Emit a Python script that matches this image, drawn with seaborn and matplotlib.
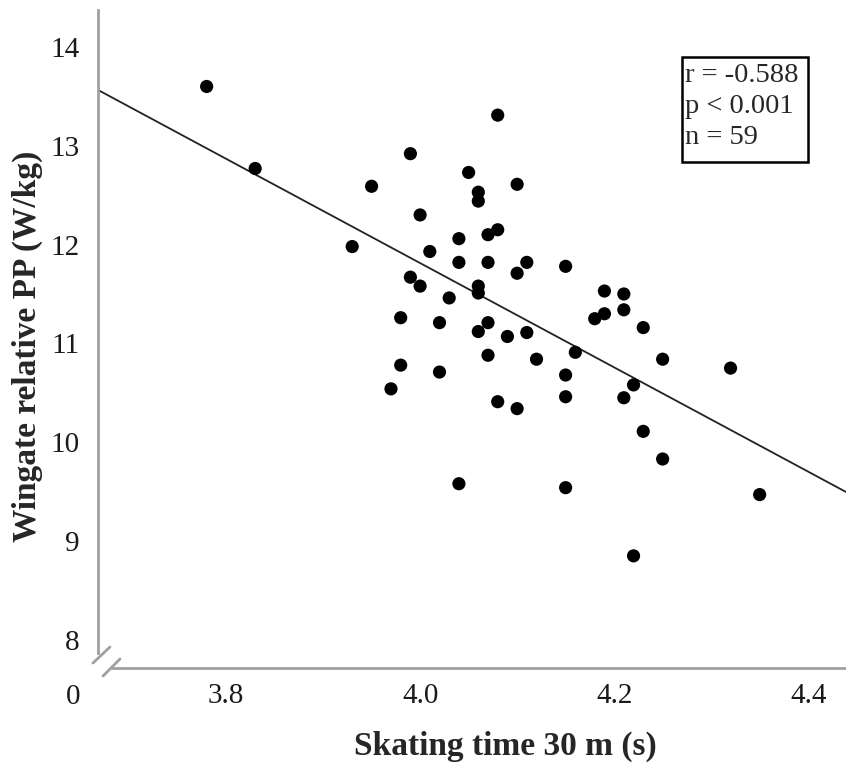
import numpy as np
import pandas as pd
import seaborn as sns
import matplotlib.pyplot as plt
from matplotlib.patches import Rectangle

# skating time 30 m (s) and Wingate relative peak power (W/kg)
skate_time = [3.78, 3.83, 4.08, 3.99, 4.05, 3.95, 4.10, 4.06, 4.06, 4.00,
              4.08, 4.07, 4.04, 3.93, 4.01, 4.04, 4.07, 4.11, 4.15, 4.10,
              3.99, 4.00, 4.06, 4.06, 4.03, 4.19, 4.21, 3.98, 4.02, 4.18,
              4.19, 4.21, 4.06, 4.07, 4.09, 4.11, 4.23, 4.16, 4.07, 4.12,
              4.25, 4.32, 3.98, 4.02, 4.15, 4.22, 3.97, 4.15, 4.21, 4.08,
              4.10, 4.23, 4.25, 4.04, 4.15, 4.35, 4.22]
wingate_pp = [13.60, 12.77, 13.31, 12.92, 12.73, 12.59, 12.61, 12.53, 12.44, 12.30,
              12.15, 12.10, 12.06, 11.98, 11.93, 11.82, 11.82, 11.82, 11.78, 11.71,
              11.67, 11.58, 11.58, 11.51, 11.46, 11.53, 11.50, 11.26, 11.21, 11.25,
              11.30, 11.34, 11.12, 11.21, 11.07, 11.11, 11.16, 10.91, 10.88, 10.84,
              10.84, 10.75, 10.78, 10.71, 10.68, 10.58, 10.54, 10.46, 10.45, 10.41,
              10.34, 10.11, 9.83, 9.58, 9.54, 9.47, 8.85]

# fitted line as printed in the figure: y = fit_at_4 + fit_slope * (x - 4)
fit_at_4 = 11.813
fit_slope = -5.277

xticks = [3.8, 4.0, 4.2, 4.4]
yticks = [8, 9, 10, 11, 12, 13, 14]
stats_lines = ['r = -0.588', 'p < 0.001', 'n = 59']

xlim = (3.668, 4.439)
ylim = (7.715, 14.374)

sns.set_style('white')
plt.rcParams['font.family'] = ['Liberation Serif', 'DejaVu Serif']

fig = plt.figure(figsize=(8.46, 7.71), dpi=100)
ax = fig.add_axes([98 / 846, 103 / 771, 748 / 846, 658 / 771])

df = pd.DataFrame({'time': skate_time, 'pp': wingate_pp})
sns.scatterplot(data=df, x='time', y='pp', ax=ax, color='black', s=90,
                edgecolor='none', zorder=3)

line = pd.DataFrame({'time': list(xlim)})
line['pp'] = fit_at_4 + fit_slope * (line['time'] - 4.0)
sns.lineplot(data=line, x='time', y='pp', ax=ax, color='#222222', lw=1.3)

ax.set_xlim(*xlim)
ax.set_ylim(*ylim)
ax.set_xticks(xticks)
ax.set_xticklabels([f'{t:.1f}' for t in xticks])
ax.set_yticks(yticks)
ax.tick_params(length=0, labelsize=21, colors='#1a1a1a')
ax.tick_params(axis='y', pad=13)
ax.tick_params(axis='x', pad=11)

for side in ['top', 'right']:
    ax.spines[side].set_visible(False)
for side in ['left', 'bottom']:
    ax.spines[side].set_color('#a0a0a0')
    ax.spines[side].set_linewidth(2)
ax.spines['left'].set_bounds(7.866, ylim[1])
ax.spines['bottom'].set_bounds(3.682, xlim[1])

# axis break marks at the corner
for (x0, y0), (x1, y1) in [((-0.0067, 0.0076), (0.016, 0.0319)),
                           ((0.0067, -0.0122), (0.0294, 0.0137))]:
    ax.plot([x0, x1], [y0, y1], transform=ax.transAxes, color='#a0a0a0',
            lw=2, clip_on=False)
ax.text(-0.024, -0.044, '0', transform=ax.transAxes, ha='right', va='center',
        fontsize=21, color='#1a1a1a')

ax.set_xlabel('Skating time 30 m (s)', fontsize=24, fontweight='bold')
ax.set_ylabel('Wingate relative PP (W/kg)', fontsize=24, fontweight='bold')
ax.xaxis.set_label_coords(0.544, -0.096)
ax.yaxis.set_label_coords(-0.0735, 0.489)

# statistics box
ax.add_patch(Rectangle((0.7807, 0.769), 0.1684, 0.1596, transform=ax.transAxes,
                       facecolor='white', edgecolor='black', lw=1.8, zorder=4))
ax.text(0.785, 0.919, '\n'.join(stats_lines), transform=ax.transAxes,
        ha='left', va='top', fontsize=20.5, linespacing=1.3, zorder=5)

plt.savefig('out.png', dpi=100)
